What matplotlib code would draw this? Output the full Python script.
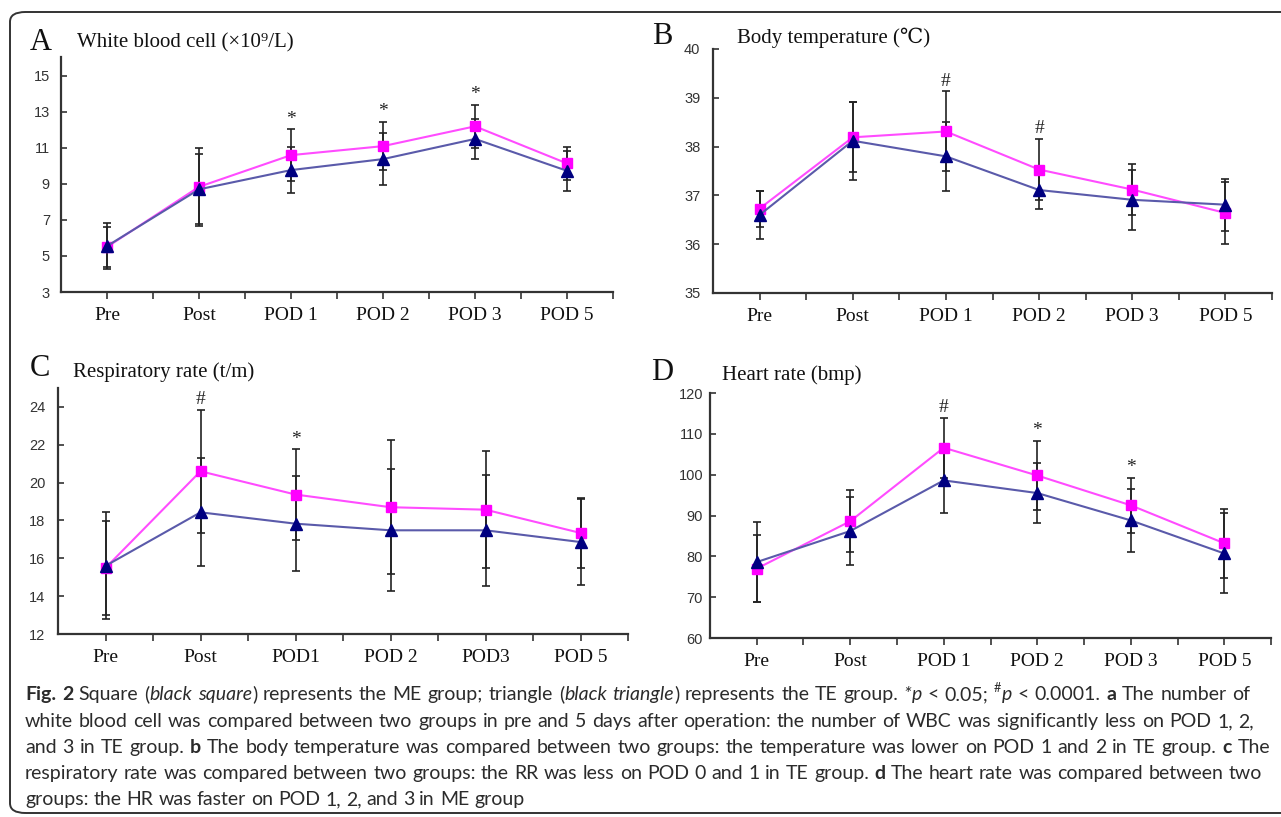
import re
import numpy as np
import matplotlib.pyplot as plt
from matplotlib.patches import FancyBboxPatch

W, H = 1281, 817

cats = ["Pre", "Post", "POD 1", "POD 2", "POD 3", "POD 5"]
cats_c = ["Pre", "Post", "POD1", "POD 2", "POD3", "POD 5"]

# means and SD (ME = square, TE = triangle)
wbc_me = [5.5, 8.84, 10.6, 11.1, 12.2, 10.14]
wbc_me_sd = [1.1, 2.15, 1.45, 1.35, 1.2, 0.9]
wbc_te = [5.55, 8.7, 9.77, 10.38, 11.5, 9.73]
wbc_te_sd = [1.3, 1.95, 1.3, 1.45, 1.1, 1.1]
wbc_sig = ["", "", "*", "*", "*", ""]

temp_me = [36.73, 38.19, 38.31, 37.53, 37.12, 36.64]
temp_me_sd = [0.37, 0.72, 0.82, 0.63, 0.53, 0.63]
temp_te = [36.6, 38.12, 37.8, 37.11, 36.91, 36.81]
temp_te_sd = [0.49, 0.8, 0.7, 0.38, 0.62, 0.53]
temp_sig = ["", "", "#", "#", "", ""]

rr_me = [15.49, 20.6, 19.37, 18.7, 18.57, 17.34]
rr_me_sd = [2.5, 3.25, 2.4, 3.55, 3.1, 1.85]
rr_te = [15.6, 18.43, 17.83, 17.48, 17.48, 16.86]
rr_te_sd = [2.83, 2.85, 2.5, 3.22, 2.93, 2.25]
rr_sig = ["", "#", "*", "", "", ""]

hr_me = [77.0, 88.6, 106.6, 99.8, 92.5, 83.2]
hr_me_sd = [8.2, 7.6, 7.4, 8.5, 6.8, 8.4]
hr_te = [78.6, 86.2, 98.6, 95.5, 88.8, 80.7]
hr_te_sd = [9.8, 8.4, 8.0, 7.3, 7.7, 9.8]
hr_sig = ["", "", "#", "*", "*", ""]

serif = ['Liberation Serif', 'DejaVu Serif', 'DejaVu Sans']
sans = ['Liberation Sans', 'DejaVu Sans']
dark = '#333333'


def px_rect(l, t, r, b):
    return [l / W, 1 - b / H, (r - l) / W, (b - t) / H]


def fx(x):
    return x / W


def fy(y):
    return 1 - y / H


fig = plt.figure(figsize=(W / 100, H / 100), dpi=100)
fig.patch.set_facecolor('white')

panels = [
    dict(letter="A", title="White blood cell (×10⁹/L)", rect=(61, 57, 613, 292),
         ylim=(3, 16.05), yticks=np.arange(3, 16, 2), labels=cats,
         me=wbc_me, me_sd=wbc_me_sd, te=wbc_te, te_sd=wbc_te_sd, sig=wbc_sig,
         letter_xy=(41, 42), title_xy=(77, 43), ypad=8),
    dict(letter="B", title="Body temperature (℃)", rect=(713, 49, 1272, 293),
         ylim=(35, 40), yticks=np.arange(35, 41, 1), labels=cats,
         me=temp_me, me_sd=temp_me_sd, te=temp_te, te_sd=temp_te_sd, sig=temp_sig,
         letter_xy=(662, 37), title_xy=(737, 38), ypad=9),
    dict(letter="C", title="Respiratory rate (t/m)", rect=(58, 388, 628, 634),
         ylim=(12, 25), yticks=np.arange(12, 25, 2), labels=cats_c,
         me=rr_me, me_sd=rr_me_sd, te=rr_te, te_sd=rr_te_sd, sig=rr_sig,
         letter_xy=(40, 368), title_xy=(73, 372), ypad=9),
    dict(letter="D", title="Heart rate (bmp)", rect=(710, 393, 1271, 638),
         ylim=(60, 120), yticks=np.arange(60, 121, 10), labels=cats,
         me=hr_me, me_sd=hr_me_sd, te=hr_te, te_sd=hr_te_sd, sig=hr_sig,
         letter_xy=(662, 372), title_xy=(722, 375), ypad=5),
]

for p in panels:
    ax = fig.add_axes(px_rect(*p['rect']))
    x = np.arange(len(p['labels'])) + 0.5

    ax.errorbar(x, p['te'], yerr=p['te_sd'], fmt='none', ecolor='#222222',
                elinewidth=1.2, capsize=3, capthick=1.2, zorder=2)
    ax.errorbar(x, p['me'], yerr=p['me_sd'], fmt='none', ecolor='#222222',
                elinewidth=1.2, capsize=3, capthick=1.2, zorder=2)
    ax.plot(x, p['me'], color='#FF4CFF', lw=1.5, marker='s', ms=7,
            mfc='#FF00FF', mec='#FF00FF', zorder=3)
    ax.plot(x, p['te'], color='#5A5AAA', lw=1.5, marker='^', ms=8,
            mfc='#000080', mec='#000080', zorder=4)

    for i, s in enumerate(p['sig']):
        if s:
            top = max(p['me'][i] + p['me_sd'][i], p['te'][i] + p['te_sd'][i])
            ax.annotate(s, (x[i], top), xytext=(0, 1), textcoords='offset points',
                        ha='center', va='bottom', fontsize=14, family=serif,
                        color='#222222')

    ax.set_xlim(0, len(p['labels']))
    ax.set_ylim(*p['ylim'])
    ax.set_xticks(x)
    ax.set_xticklabels(p['labels'], fontsize=14, family=serif, color='#111111')
    ax.set_xticks(np.arange(1, len(p['labels']) + 1), minor=True)
    ax.set_yticks(p['yticks'])
    ax.set_yticklabels([str(v) for v in p['yticks']], fontsize=10.5,
                       family=sans, color=dark)
    ax.tick_params(axis='x', which='both', direction='out', length=5, width=1.2,
                   color=dark, pad=6)
    ax.tick_params(axis='y', direction='in', length=4, width=1.2, color=dark,
                   pad=p['ypad'])
    for side in ['top', 'right']:
        ax.spines[side].set_visible(False)
    for side in ['left', 'bottom']:
        ax.spines[side].set_color(dark)
        ax.spines[side].set_linewidth(1.6)
    ax.set_facecolor('white')

    lx, ly = p['letter_xy']
    fig.text(fx(lx), fy(ly), p['letter'], fontsize=22, family=serif,
             ha='center', va='center', color='#111111')
    tx, ty = p['title_xy']
    fig.text(fx(tx), fy(ty), p['title'], fontsize=15, family=serif,
             ha='left', va='center', color='#111111')

# outer rounded frame
frame = FancyBboxPatch((fx(10), fy(813)), 1.05, fy(12) - fy(813),
                       boxstyle="round,pad=0,rounding_size=0.012",
                       transform=fig.transFigure, fill=False, ec=dark, lw=1.4,
                       clip_on=False)
fig.add_artist(frame)

# caption with mixed styles
cap_font = 'Lato'
cap_color = '#2b2b2b'
N, B, I, S = 'n', 'b', 'i', 's'
cap_lines = [
    [("Fig. 2", B), (" Square (", N), ("black square", I),
     (") represents the ME group; triangle (", N), ("black triangle", I),
     (") represents the TE group. ", N), ("*", I), ("p", I), (" < 0.05; ", N),
     ("#", S), ("p", I), (" < 0.0001. ", N), ("a", B), (" The number of", N)],
    [("white blood cell was compared between two groups in pre and 5 days after "
      "operation: the number of WBC was significantly less on POD 1, 2,", N)],
    [("and 3 in TE group. ", N), ("b", B),
     (" The body temperature was compared between two groups: the temperature "
      "was lower on POD 1 and 2 in TE group. ", N), ("c", B), (" The", N)],
    [("respiratory rate was compared between two groups: the RR was less on "
      "POD 0 and 1 in TE group. ", N), ("d", B),
     (" The heart rate was compared between two", N)],
    [("groups: the HR was faster on POD 1, 2, and 3 in ME group", N)],
]
cap_y = [693, 720, 746, 772, 798]
cap_right = [1250, 1254, 1270, 1262, None]
cap_x0 = 25
cap_size = 14.0

renderer = fig.canvas.get_renderer()


def style_kw(st, size):
    kw = dict(family=[cap_font, 'DejaVu Sans'], fontsize=size, color=cap_color)
    if st == B:
        kw['weight'] = 'bold'
    if st == I:
        kw['style'] = 'italic'
    if st == S:
        kw['fontsize'] = size * 0.65
    return kw


def text_w(s, kw):
    t1 = fig.text(0, 0, "|" + s + "|", **kw)
    t0 = fig.text(0, 0, "||", **kw)
    w = t1.get_window_extent(renderer).width - t0.get_window_extent(renderer).width
    t1.remove()
    t0.remove()
    return w


space_w = text_w(' ', style_kw(N, cap_size))


def layout_line(segs, extra=0.0, draw_y=None):
    xpos = cap_x0
    n_sp = 0
    for txt, st in segs:
        kw = style_kw(st, cap_size)
        for part in re.split(r'( +)', txt):
            if not part:
                continue
            if part.strip() == '':
                xpos += len(part) * (space_w + extra)
                n_sp += len(part)
                continue
            if draw_y is not None:
                yy = draw_y - 6 if st == S else draw_y
                fig.text(fx(xpos), fy(yy), part, ha='left',
                         va='center_baseline', **kw)
            xpos += text_w(part, kw)
    return xpos, n_sp


for segs, y, right in zip(cap_lines, cap_y, cap_right):
    extra = 0.0
    if right is not None:
        end, n_sp = layout_line(segs)
        extra = (right - end) / max(n_sp, 1)
    layout_line(segs, extra=extra, draw_y=y)

fig.savefig('out.png', dpi=100, facecolor='white')
